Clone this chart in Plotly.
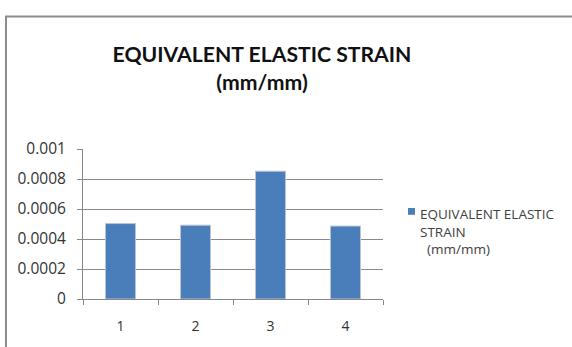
import plotly.graph_objects as go

# Chart data
categories = ["1", "2", "3", "4"]
strain_values = [0.000503, 0.000492, 0.000852, 0.000486]
series_name = "EQUIVALENT ELASTIC<br>STRAIN<br>  (mm/mm)"
y_tick_values = [0, 0.0002, 0.0004, 0.0006, 0.0008, 0.001]
y_tick_labels = ["0", "0.0002", "0.0004", "0.0006", "0.0008", "0.001"]

BAR_COLOR = "#4A7EBB"
W, H = 572, 347
left, right, top, bottom = 83, 189, 149, 43
pw = W - left - right
ph = H - top - bottom


def px_x(x):
    """Page pixel x -> paper coordinate."""
    return (x - left) / pw


def px_y(y):
    """Page pixel y (from top) -> paper coordinate."""
    return (H - bottom - y) / ph


fig = go.Figure()
fig.add_trace(go.Bar(
    x=categories,
    y=strain_values,
    name=series_name,
    marker=dict(color=BAR_COLOR, line=dict(color="#B8C4D0", width=1)),
    width=0.4,
    showlegend=False,
))

fig.update_layout(
    width=W, height=H,
    margin=dict(l=left, r=right, t=top, b=bottom, pad=0),
    paper_bgcolor="white",
    plot_bgcolor="white",
    font=dict(family="Open Sans, Liberation Sans, sans-serif", size=12, color="#404040"),
    title=dict(
        text="<b>EQUIVALENT ELASTIC STRAIN<br>(mm/mm)</b>",
        x=262 / W, xanchor="center",
        y=1 - 62 / H, yanchor="middle",
        font=dict(family="Lato, sans-serif", size=21.2, color="#111111"),
    ),
    showlegend=False,
    xaxis=dict(
        type="category",
        range=[-0.5, 3.5],
        tickson="boundaries",
        ticks="outside",
        ticklen=5,
        tickcolor="#888888",
        showline=True,
        linecolor="#888888",
        showgrid=False,
        ticklabelstandoff=14,
        tickfont=dict(size=14, color="#333333"),
        fixedrange=True,
    ),
    yaxis=dict(
        range=[0, 0.001],
        tickvals=y_tick_values,
        ticktext=y_tick_labels,
        ticks="outside",
        ticklen=5,
        tickcolor="#888888",
        showline=True,
        linecolor="#888888",
        showgrid=True,
        gridcolor="#8A8A8A",
        gridwidth=1,
        zeroline=False,
        ticklabelstandoff=8,
        tickfont=dict(size=15.5, color="#333333"),
        fixedrange=True,
    ),
    bargap=0.6,
)

# Legend: colour key and series label
fig.add_shape(
    type="rect", xref="paper", yref="paper",
    x0=px_x(408), x1=px_x(415), y0=px_y(217), y1=px_y(210),
    line=dict(width=0), fillcolor=BAR_COLOR,
)
fig.add_annotation(
    xref="paper", yref="paper",
    x=px_x(418), y=px_y(205), xanchor="left", yanchor="top",
    text=series_name, showarrow=False, align="left",
    font=dict(family="Open Sans, sans-serif", size=13.5, color="#404040"),
)

# Outer chart frame (extends past the right and bottom edges of the page)
fig.add_shape(
    type="rect", xref="paper", yref="paper",
    x0=px_x(6), x1=px_x(W + 10),
    y0=px_y(H + 10), y1=px_y(12),
    line=dict(color="#8C8C8C", width=2),
    fillcolor="rgba(0,0,0,0)",
    layer="below",
)

fig.write_html("out.html")
